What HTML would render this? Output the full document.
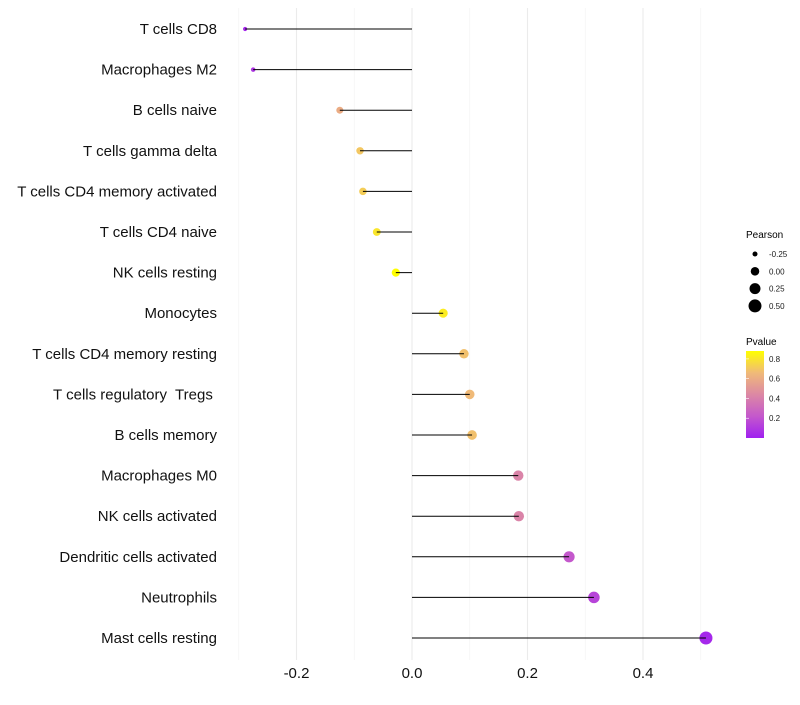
<!DOCTYPE html>
<html><head><meta charset="utf-8"><style>
body{margin:0;background:#fff}
svg text{font-family:"Liberation Sans",sans-serif;white-space:pre}
</style></head><body>
<svg id="c" width="800" height="700">
<defs><linearGradient id="pg" x1="0" y1="1" x2="0" y2="0">
<stop offset="0" stop-color="#A020F0"/><stop offset="0.25" stop-color="#C458CC"/><stop offset="0.5" stop-color="#DC88A4"/><stop offset="0.75" stop-color="#F0BA78"/><stop offset="1" stop-color="#FFFF00"/>
</linearGradient></defs>
<g id="grid"></g><g id="dots"></g><g id="marks"></g><g id="ylab"></g><g id="xlab"></g>
<g>
<text x="746" y="238" font-size="10">Pearson</text>
<g id="sizeleg"></g>
<text x="746" y="345" font-size="10">Pvalue</text>
<rect x="746" y="351" width="18" height="87" fill="url(#pg)"/>
<g id="colleg"></g>
</g>
</svg>
<script>
const categories=["T cells CD8","Macrophages M2","B cells naive","T cells gamma delta","T cells CD4 memory activated","T cells CD4 naive","NK cells resting","Monocytes","T cells CD4 memory resting","T cells regulatory  Tregs ","B cells memory","Macrophages M0","NK cells activated","Dendritic cells activated","Neutrophils","Mast cells resting"];
const pearson=[-0.289,-0.275,-0.125,-0.09,-0.085,-0.061,-0.028,0.054,0.09,0.1,0.104,0.184,0.185,0.272,0.315,0.509];
const pvalue=[0.03,0.08,0.6,0.7,0.72,0.8,0.88,0.82,0.68,0.66,0.68,0.42,0.42,0.22,0.14,0.03];
const xTicks=[-0.2,0,0.2,0.4];
const xTickLabels=["-0.2","0.0","0.2","0.4"];
const xMinor=[-0.3,-0.1,0.1,0.3,0.5];
const sizeBreaks=[-0.25,0,0.25,0.5];
const sizeLabels=["-0.25","0.00","0.25","0.50"];
const colBreaks=[0.8,0.6,0.4,0.2];
const NS="http://www.w3.org/2000/svg";
const X=v=>412+v*577.5;
const Y=i=>29+i*40.6;
const R=v=>Math.sqrt(Math.max(1,18.2+47.7*v));
const stops=[[0,[160,32,240]],[0.25,[196,88,204]],[0.5,[220,136,164]],[0.75,[240,186,120]],[1,[255,255,0]]];
function col(p){let t=Math.min(1,Math.max(0,p/0.88));for(let k=1;k<stops.length;k++){if(t<=stops[k][0]){const a=stops[k-1],b=stops[k],f=(t-a[0])/(b[0]-a[0]);return "rgb("+a[1].map((c,j)=>Math.round(c+(b[1][j]-c)*f)).join(",")+")";}}return "rgb(255,255,0)";}
function mk(tag,at,parent,txt){const e=document.createElementNS(NS,tag);for(const k in at)e.setAttribute(k,at[k]);if(txt!==undefined)e.textContent=txt;document.getElementById(parent).appendChild(e);return e;}
xMinor.forEach(v=>{const e=mk("line",{x1:X(v),x2:X(v),y1:8,y2:660,stroke:"#f2f2f2","stroke-width":0.6},"grid");

});
xTicks.forEach((v,i)=>{const e=mk("line",{x1:X(v),x2:X(v),y1:8,y2:660,stroke:"#ebebeb","stroke-width":1.1},"grid");


const t=mk("text",{x:X(v),y:678,"font-size":15,"text-anchor":"middle",fill:"#111"},"xlab",xTickLabels[i]);

});
categories.forEach((c,i)=>{const y=Y(i);
const d=mk("circle",{cx:X(pearson[i]),cy:y,r:R(pearson[i]),fill:col(pvalue[i])},"dots");


const l=mk("line",{x1:X(0),x2:X(pearson[i]),y1:y,y2:y,stroke:"#000","stroke-width":1},"marks");


const t=mk("text",{x:217,y:y+5,"font-size":15,"text-anchor":"end",fill:"#111"},"ylab",c);

});
sizeBreaks.forEach((v,i)=>{const y=254+i*17.3;
const d=mk("circle",{cx:755,cy:y,r:R(v),fill:"#000"},"sizeleg");


const t=mk("text",{x:769,y:y+3,"font-size":8,fill:"#1a1a1a"},"sizeleg",sizeLabels[i]);

});
colBreaks.forEach(v=>{const y=438-(v/0.88)*87;
const t=mk("text",{x:769,y:y+3,"font-size":8,fill:"#1a1a1a"},"colleg",v.toFixed(1));


const k=mk("line",{x1:746,x2:749,y1:y,y2:y,stroke:"#fff","stroke-width":0.6},"colleg");

});
</script>
</body></html>
